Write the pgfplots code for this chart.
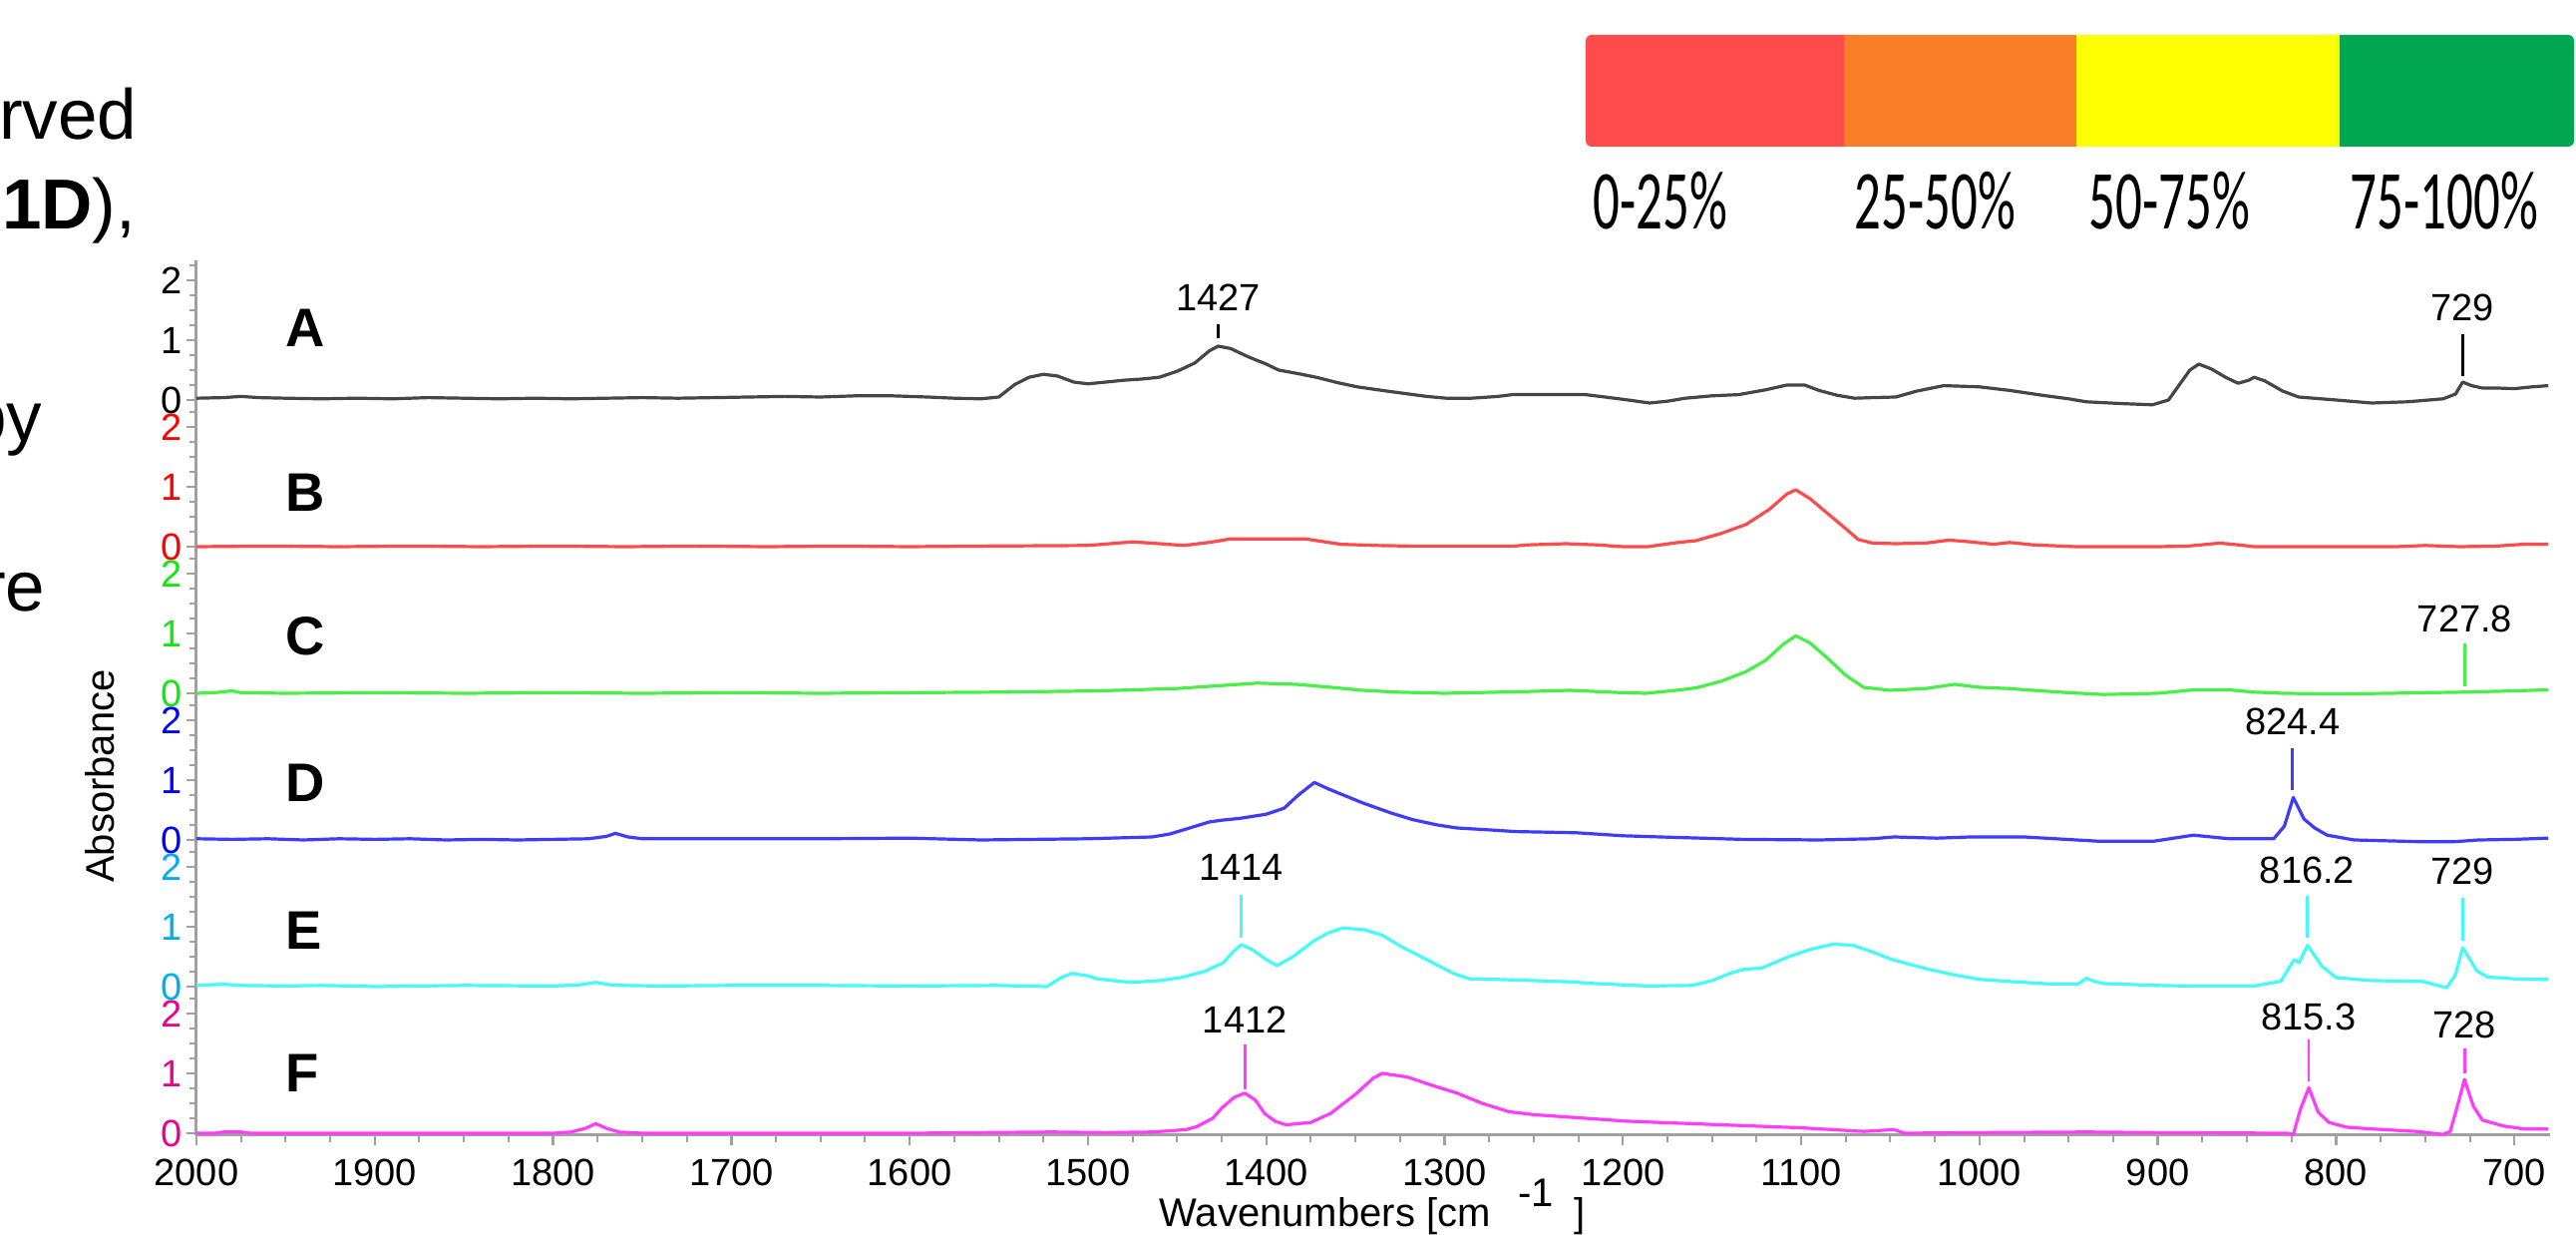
\documentclass[border=0pt]{standalone}
\usepackage{pgfplots}
\pgfplotsset{compat=1.18}
\usepackage{fontspec}
\setmainfont{Liberation Sans}
\newfontfamily\cbfont{Carlito}

\definecolor{lnA}{RGB}{70,70,70}
\definecolor{lnB}{RGB}{255,75,75}
\definecolor{lnC}{RGB}{70,240,70}
\definecolor{lnD}{RGB}{60,60,250}
\definecolor{lnE}{RGB}{70,250,250}
\definecolor{lnF}{RGB}{255,60,255}
\definecolor{tkC}{RGB}{20,230,20}
\definecolor{axgray}{RGB}{160,160,160}
\definecolor{cbred}{RGB}{255,75,75}
\definecolor{cborange}{RGB}{250,125,40}
\definecolor{cbyellow}{RGB}{255,255,0}
\definecolor{cbgreen}{RGB}{0,166,80}

\tikzset{
  spec/.style={line width=0.8pt, line join=round},
  pk/.style={line width=0.7pt},
  pklab/.style={font=\fontsize{9.5}{10}\selectfont, text=black},
  letter/.style={font=\fontsize{13.6}{15}\selectfont\bfseries, anchor=west},
}

\pgfplotsset{
  panelbase/.style={
    scale only axis, width=590pt,
    xmin=680, xmax=2000, x dir=reverse,
    axis y line*=left,
    axis line style={axgray, line width=0.75pt, -},
    ytick={0,1,2},
    minor ytick={0.25,0.5,0.75,1.25,1.5,1.75,2.25},
    tick align=outside,
    major tick length=2.5pt, minor tick length=1.7pt,
    every tick/.style={axgray, line width=0.6pt},
    minor tick style={axgray, line width=0.5pt},
    ticklabel style={font=\fontsize{9.5}{10}\selectfont},
    yticklabel style={xshift=2.5pt},
    /pgf/number format/assume math mode=true,
    /pgf/number format/1000 sep={},
    clip=false,
    ymin=-0.12, ymax=2.33, height=36.75pt,
  },
  panel/.style={panelbase, axis x line=none},
}

\pgfplotstableread{
x y
2000 0.03
1985 0.04
1975 0.06
1965 0.04
1950 0.03
1930 0.02
1910 0.03
1890 0.02
1870 0.04
1850 0.03
1830 0.02
1810 0.03
1790 0.02
1770 0.03
1750 0.04
1730 0.03
1710 0.04
1690 0.05
1670 0.06
1650 0.05
1630 0.07
1610 0.07
1590 0.05
1575 0.03
1560 0.02
1550 0.05
1541 0.26
1533 0.38
1525 0.43
1517 0.40
1508 0.30
1500 0.27
1490 0.30
1480 0.33
1470 0.35
1460 0.38
1450 0.48
1440 0.62
1432 0.82
1427 0.90
1420 0.86
1410 0.72
1400 0.60
1393 0.50
1382 0.44
1372 0.38
1360 0.29
1349 0.22
1335 0.16
1320 0.10
1310 0.06
1299 0.03
1285 0.03
1270 0.06
1262 0.09
1240 0.09
1221 0.09
1210 0.05
1197 0.00
1185 -0.05
1175 -0.02
1165 0.03
1150 0.07
1135 0.09
1120 0.17
1108 0.25
1098 0.25
1090 0.16
1080 0.08
1070 0.03
1060 0.04
1047 0.05
1035 0.15
1020 0.24
1000 0.22
983 0.16
965 0.08
950 0.02
940 -0.03
920 -0.06
903 -0.08
894 0.00
888 0.25
882 0.50
877 0.60
870 0.52
862 0.38
855 0.28
849 0.33
846 0.38
840 0.32
830 0.15
821 0.05
800 0.00
780 -0.05
760 -0.03
740 0.02
733 0.10
729 0.30
724 0.24
718 0.20
710 0.20
700 0.19
690 0.22
681 0.24
}\dataA

\pgfplotstableread{
x y
2000 0.00
1960 0.01
1920 0.00
1880 0.01
1840 0.00
1800 0.01
1760 0.00
1720 0.01
1680 0.00
1640 0.01
1600 0.00
1560 0.01
1500 0.02
1475 0.08
1460 0.05
1446 0.02
1430 0.08
1420 0.13
1400 0.13
1378 0.13
1365 0.07
1358 0.04
1339 0.02
1318 0.01
1290 0.01
1261 0.01
1253 0.03
1232 0.05
1215 0.03
1200 0.00
1186 0.00
1169 0.07
1159 0.10
1145 0.22
1131 0.37
1118 0.62
1108 0.88
1103 0.95
1095 0.80
1085 0.55
1075 0.30
1068 0.12
1060 0.06
1047 0.05
1030 0.06
1017 0.11
1005 0.08
992 0.04
983 0.07
970 0.03
946 0.00
900 0.00
883 0.01
865 0.06
855 0.03
846 0.00
800 0.00
766 0.00
750 0.02
731 0.00
710 0.01
695 0.04
681 0.04
}\dataB

\pgfplotstableread{
x y
2000 0.00
1990 0.01
1980 0.04
1975 0.01
1950 0.00
1900 0.01
1850 0.00
1800 0.01
1750 0.00
1700 0.01
1650 0.00
1600 0.01
1550 0.02
1495 0.04
1450 0.08
1420 0.14
1405 0.17
1383 0.15
1360 0.09
1346 0.05
1327 0.02
1300 0.00
1253 0.03
1230 0.05
1200 0.01
1187 0.00
1170 0.05
1159 0.09
1145 0.20
1131 0.36
1120 0.55
1110 0.82
1103 0.96
1095 0.84
1085 0.58
1075 0.30
1065 0.10
1050 0.05
1030 0.08
1014 0.15
1000 0.10
984 0.08
970 0.05
950 0.01
930 -0.02
900 0.00
879 0.06
861 0.06
846 0.02
830 0.00
800 -0.01
770 0.00
750 0.01
728 0.02
715 0.03
700 0.04
690 0.05
681 0.06
}\dataC

\pgfplotstableread{
x y
2000 0.02
1980 0.01
1960 0.02
1940 0.00
1920 0.02
1900 0.01
1880 0.02
1860 0.00
1840 0.01
1820 0.00
1800 0.01
1780 0.02
1770 0.06
1765 0.11
1758 0.05
1750 0.02
1700 0.02
1650 0.02
1600 0.03
1560 0.00
1500 0.02
1464 0.05
1454 0.10
1443 0.20
1432 0.30
1425 0.33
1415 0.36
1400 0.43
1390 0.53
1382 0.75
1373 0.96
1365 0.85
1346 0.62
1330 0.45
1318 0.34
1304 0.25
1293 0.20
1276 0.17
1260 0.14
1226 0.12
1200 0.07
1179 0.05
1133 0.01
1090 0.00
1060 0.02
1048 0.05
1024 0.03
1005 0.05
975 0.05
934 -0.02
902 -0.02
880 0.08
860 0.02
835 0.02
829 0.23
824 0.71
818 0.35
812 0.20
805 0.08
790 0.00
752 -0.03
734 -0.03
720 0.00
700 0.01
681 0.03
}\dataD

\pgfplotstableread{
x y
2000 0.02
1985 0.04
1975 0.02
1950 0.01
1930 0.02
1900 0.00
1850 0.02
1800 0.01
1785 0.03
1776 0.07
1768 0.03
1760 0.02
1740 0.01
1700 0.02
1650 0.02
1600 0.01
1551 0.02
1523 0.00
1515 0.15
1509 0.22
1500 0.18
1495 0.13
1476 0.07
1460 0.10
1448 0.15
1435 0.25
1424 0.40
1418 0.60
1414 0.70
1408 0.62
1400 0.45
1394 0.35
1385 0.50
1373 0.77
1365 0.90
1357 0.98
1345 0.95
1335 0.86
1325 0.68
1308 0.42
1295 0.22
1286 0.13
1270 0.12
1250 0.10
1230 0.08
1215 0.05
1186 0.01
1161 0.02
1150 0.10
1140 0.22
1132 0.29
1122 0.31
1107 0.50
1095 0.62
1082 0.71
1071 0.69
1060 0.58
1050 0.46
1040 0.38
1030 0.30
1015 0.20
1000 0.12
980 0.08
958 0.04
945 0.04
940 0.14
935 0.08
930 0.05
900 0.02
883 0.01
846 0.01
831 0.09
823.5 0.45
820.7 0.40
816 0.69
808 0.34
800 0.15
780 0.10
752 0.09
738 -0.02
733 0.20
729 0.65
721 0.26
715 0.16
700 0.13
681 0.12
}\dataE

\pgfplotstableread{
x y
2000 0.00
1990 0.00
1985 0.02
1975 0.02
1970 0.00
1900 0.00
1800 0.00
1790 0.02
1782 0.08
1776 0.16
1770 0.08
1763 0.02
1750 0.00
1600 0.00
1560 0.01
1520 0.02
1490 0.01
1464 0.02
1445 0.06
1439 0.11
1430 0.25
1425 0.42
1418 0.60
1412 0.67
1406 0.55
1401 0.33
1395 0.20
1389 0.14
1375 0.18
1364 0.33
1350 0.65
1340 0.92
1335 1.00
1321 0.94
1307 0.80
1293 0.67
1279 0.50
1264 0.36
1250 0.31
1197 0.20
1144 0.14
1100 0.09
1065 0.03
1048 0.06
1042 0.00
1000 0.01
940 0.02
900 0.01
828 0.00
824 -0.02
820 0.40
815.3 0.76
810 0.35
804 0.18
794 0.10
779 0.07
755 0.03
740 -0.02
736 0.03
732 0.45
728 0.90
723 0.45
718 0.22
706 0.12
694 0.07
681 0.07
}\dataF

\begin{document}
\begin{tikzpicture}
\useasboundingbox (0,0) rectangle (645.75pt,-309.5pt);

% surrounding text fragments
\node[anchor=base east, inner sep=0pt, font=\fontsize{17.75}{20}\selectfont] at (34.5pt,-35pt) {observed};
\node[anchor=base east, inner sep=0pt, font=\fontsize{17.75}{20}\selectfont] at (34.25pt,-57.5pt) {(Figure \textbf{1D}),};
\node[anchor=base east, inner sep=0pt, font=\fontsize{17.75}{20}\selectfont] at (10.75pt,-110.75pt) {spectroscopy};
\node[anchor=base east, inner sep=0pt, font=\fontsize{17.75}{20}\selectfont] at (11.5pt,-153.25pt) {were};

% colour bar
\fill[cbred, rounded corners=1.5pt] (397.5pt,-8.75pt) rectangle (468pt,-36.75pt);
\fill[cbgreen, rounded corners=1.5pt] (580pt,-8.75pt) rectangle (645.25pt,-36.75pt);
\fill[cborange] (462.25pt,-8.75pt) rectangle (520.5pt,-36.75pt);
\fill[cbyellow] (520.5pt,-8.75pt) rectangle (586.5pt,-36.75pt);
\foreach \xx/\tt in {399.25/0-25\%, 464.75/25-50\%, 523.5/50-75\%, 589/75-100\%}{
  \node[anchor=base west, inner sep=0pt] at (\xx pt,-57.5pt) {\scalebox{0.63}[1]{\cbfont\fontsize{21}{24}\selectfont \tt}};
}

% axis labels
\node[rotate=90, font=\fontsize{10}{12}\selectfont] at (25pt,-194.5pt) {Absorbance};
\node[anchor=base, inner sep=0pt, font=\fontsize{10}{12}\selectfont] at (344pt,-307.5pt) {Wavenumbers [cm\hspace{7pt}\raisebox{5pt}{-1}\hspace{5pt}]};

% panel A
\begin{axis}[panel, at={(49.25pt,-102.05pt)}, yticklabel style={text=black}]
\addplot[spec, lnA] table[x=x,y=y] {\dataA};
\node[letter] at (axis cs:1958,1.2) {A};
\draw[pk, black] (axis cs:1427,1.03) -- (axis cs:1427,1.27);
\node[pklab] at (axis cs:1427,1.72) {1427};
\draw[pk, black] (axis cs:729,0.40) -- (axis cs:729,1.10);
\node[pklab] at (axis cs:729,1.55) {729};
\end{axis}

% panel B
\begin{axis}[panel, at={(49.25pt,-138.8pt)}, yticklabel style={text=red}]
\addplot[spec, lnB] table[x=x,y=y] {\dataB};
\node[letter] at (axis cs:1958,0.91) {B};
\end{axis}

% panel C
\begin{axis}[panel, at={(49.25pt,-175.55pt)}, yticklabel style={text=tkC}]
\addplot[spec, lnC] table[x=x,y=y] {\dataC};
\node[letter] at (axis cs:1958,0.95) {C};
\draw[pk, lnC] (axis cs:727.8,0.12) -- (axis cs:727.8,0.83);
\node[pklab] at (axis cs:727.8,1.25) {727.8};
\end{axis}

% panel D
\begin{axis}[panel, at={(49.25pt,-212.3pt)}, yticklabel style={text=blue}]
\addplot[spec, lnD] table[x=x,y=y] {\dataD};
\node[letter] at (axis cs:1958,0.95) {D};
\draw[pk, lnD] (axis cs:824.4,0.83) -- (axis cs:824.4,1.53);
\node[pklab] at (axis cs:824.4,1.98) {824.4};
\end{axis}

% panel E
\begin{axis}[panel, at={(49.25pt,-249.05pt)}, yticklabel style={text=cyan}]
\addplot[spec, lnE] table[x=x,y=y] {\dataE};
\node[letter] at (axis cs:1958,0.93) {E};
\draw[pk, lnE] (axis cs:1414,0.82) -- (axis cs:1414,1.53);
\node[pklab] at (axis cs:1414,2.0) {1414};
\draw[pk, lnE] (axis cs:816.2,0.82) -- (axis cs:816.2,1.52);
\node[pklab] at (axis cs:816.2,1.95) {816.2};
\draw[pk, lnE] (axis cs:729,0.77) -- (axis cs:729,1.48);
\node[pklab] at (axis cs:729,1.93) {729};
\end{axis}

% panel F (with x axis)
\begin{axis}[panelbase, at={(49.25pt,-284.45pt)}, ymin=-0.03, ymax=2.33, height=35.4pt,
  yticklabel style={text=magenta},
  axis x line*=bottom,
  xtick={700,800,...,2000}, minor x tick num=3,
  xticklabel style={text=black}]
\addplot[spec, lnF] table[x=x,y=y] {\dataF};
\node[letter] at (axis cs:1958,1.0) {F};
\draw[pk, lnF] (axis cs:1412,0.73) -- (axis cs:1412,1.48);
\node[pklab] at (axis cs:1412,1.9) {1412};
\draw[pk, lnF] (axis cs:815.3,0.87) -- (axis cs:815.3,1.57);
\node[pklab] at (axis cs:815.3,1.95) {815.3};
\draw[pk, lnF] (axis cs:728,1.0) -- (axis cs:728,1.42);
\node[pklab] at (axis cs:728,1.81) {728};
\end{axis}
\end{tikzpicture}
\end{document}
